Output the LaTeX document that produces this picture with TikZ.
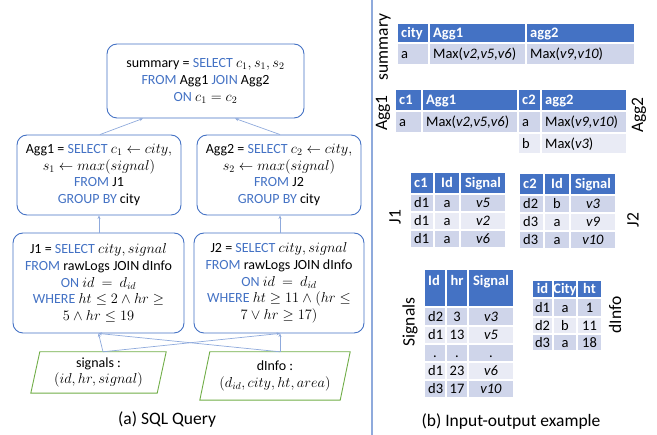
\documentclass[tikz,border=0pt]{standalone}
\usepackage{fontspec}
\setmainfont{Carlito}
\usetikzlibrary{arrows.meta}

\definecolor{kw}{HTML}{4472C4}
\definecolor{hdr}{HTML}{4472C4}
\definecolor{rowA}{HTML}{CFD5EA}
\definecolor{rowB}{HTML}{E9EBF5}
\definecolor{boxc}{HTML}{4472C4}
\definecolor{linkc}{HTML}{8FAADC}
\definecolor{inc}{HTML}{70AD47}
\definecolor{sepc}{HTML}{8FAADC}

% SQL keyword
\newcommand\kw[1]{\textcolor{kw}{#1}}
\newcommand\qfont{\fontsize{14}{16.7}\selectfont}
\newcommand\tfont{\fontsize{14.5}{17}\selectfont}
\newcommand\lfont{\fontsize{17.5}{20}\selectfont}

% table cells: x1 y1 x2 y2 fill text
\newcounter{cellno}
\newcommand\cellL[6]{%
  \path[cellbox,fill=#5] (#1,#2) rectangle (#3,#4);
  \stepcounter{cellno}%
  \node[celltext,anchor=west] (cell\arabic{cellno}) at ({#1+4},{(#2+#4)/2}) {#6};}
\newcommand\cellC[6]{%
  \path[cellbox,fill=#5] (#1,#2) rectangle (#3,#4);
  \stepcounter{cellno}%
  \node[celltext] (cell\arabic{cellno}) at ({(#1+#3)/2},{(#2+#4)/2}) {#6};}
\newcommand\hd[1]{\textcolor{white}{\bfseries #1}}

\begin{document}
\begin{tikzpicture}[x=1pt,y=-1pt,
  qbox/.style={draw=boxc, line width=0.9pt, rounded corners=10pt, align=center,
    font=\qfont, inner sep=0pt},
  inbox/.style={align=center, font=\qfont, inner sep=0pt},
  inshape/.style={draw=inc, line width=0.9pt},
  link/.style={draw=linkc, line width=0.7pt, -{Stealth[length=3.5pt,width=3pt]}},
  cellbox/.style={draw=white, line width=1.2pt},
  celltext/.style={font=\tfont, inner sep=0pt, text height=9.4pt, text depth=0pt},
  lbl/.style={font=\lfont, inner sep=0pt},
]
\useasboundingbox (0,0) rectangle (657,435);

% ---------------- (a) query plan ----------------
\node[qbox, minimum width=197pt, minimum height=74pt] (summary) at (205.5,81)
  {summary = \kw{SELECT} $c_1, s_1, s_2$\\
   \kw{FROM} Agg1 \kw{JOIN} Agg2\\
   \kw{ON} $c_1 = c_2$};

\node[qbox, minimum width=164pt, minimum height=80pt] (agg1) at (99,175)
  {Agg1 = \kw{SELECT} $c_1 \leftarrow city,$\\
   $s_1 \leftarrow max(signal)$\\
   \kw{FROM} J1\\
   \kw{GROUP BY} city};
\node[qbox, minimum width=164pt, minimum height=80pt] (agg2) at (279,175)
  {Agg2 = \kw{SELECT} $c_2 \leftarrow city,$\\
   $s_2 \leftarrow max(signal)$\\
   \kw{FROM} J2\\
   \kw{GROUP BY} city};

\node[qbox, minimum width=171pt, minimum height=100pt] (j1) at (98.5,283)
  {J1 = \kw{SELECT} $city, signal$\\
   \kw{FROM} rawLogs JOIN dInfo\\
   \kw{ON} $id\ =\ d_{id}$\\
   \kw{WHERE} $ht \le 2 \wedge hr \ge$\\
   $5 \wedge hr \le 19$};
\node[qbox, minimum width=170pt, minimum height=100pt] (j2) at (279,283)
  {J2 = \kw{SELECT} $city, signal$\\
   \kw{FROM} rawLogs JOIN dInfo\\
   \kw{ON} $id\ =\ d_{id}$\\
   \kw{WHERE} $ht \ge 11 \wedge (hr \le$\\
   $7 \vee hr \ge 17)$};

% input relations (parallelograms)
\node[inbox, minimum width=135pt, minimum height=41pt] (sig) at (98.5,372.5)
  {signals :\\ $(id, hr, signal)$};
\draw[inshape] ([xshift=9pt]sig.north west) -- (sig.north east)
  -- ([xshift=-9pt]sig.south east) -- (sig.south west) -- cycle;
\node[inbox, minimum width=150pt, minimum height=48pt] (dinfo) at (275,376)
  {dInfo :\\ $(d_{id}, city, ht, area)$};
\draw[inshape] ([xshift=10pt]dinfo.north west) -- (dinfo.north east)
  -- ([xshift=-10pt]dinfo.south east) -- (dinfo.south west) -- cycle;

% data flow
\draw[link] ([xshift=4.5pt]sig.north) -- (j1.south);
\draw[link] ([xshift=4.5pt]sig.north) -- ([xshift=1pt]j2.south);
\draw[link] ([xshift=5pt]dinfo.north) -- (j1.south);
\draw[link] ([xshift=5pt]dinfo.north) -- ([xshift=1pt]j2.south);
\draw[link] (agg1.south |- j1.north) -- (agg1.south);
\draw[link] ([xshift=1pt]agg2.south |- j2.north) -- ([xshift=1pt]agg2.south);
\draw[link] ([xshift=1pt]agg1.north) -- ([xshift=-62.5pt]summary.south);
\draw[link] ([xshift=1pt]agg2.north) -- ([xshift=29.5pt]summary.south);

\node[lbl] (capa) at (167,420) {(a) SQL Query};

% separator
\draw[draw=sepc, line width=1.2pt] (372,0) -- (372,435);

% ---------------- (b) example tables ----------------
% summary
\node[lbl, rotate=90] (lsummary) at (385,47) {summary};
\cellL{397}{23}{429}{43}{hdr}{\hd{city}}
\cellL{429}{23}{526}{43}{hdr}{\hd{Agg1}}
\cellL{526}{23}{635}{43}{hdr}{\hd{agg2}}
\cellL{397}{43}{429}{65}{rowA}{a}
\cellL{429}{43}{526}{65}{rowA}{Max(\textit{v2,v5,v6})}
\cellL{526}{43}{635}{65}{rowA}{Max(\textit{v9,v10})}

% Agg1 / Agg2
\node[lbl, rotate=90] (lagg1) at (383,113) {Agg1};
\node[lbl, rotate=90] (lagg2) at (639,115) {Agg2};
\cellL{395}{89}{422}{111}{hdr}{\hd{c1}}
\cellL{422}{89}{518}{111}{hdr}{\hd{Agg1}}
\cellL{518}{89}{541}{111}{hdr}{\hd{c2}}
\cellL{541}{89}{627}{111}{hdr}{\hd{agg2}}
\cellL{395}{111}{422}{133}{rowA}{a}
\cellL{422}{111}{518}{133}{rowA}{Max(\textit{v2,v5,v6})}
\cellL{518}{111}{541}{133}{rowA}{a}
\cellL{541}{111}{627}{133}{rowA}{Max(\textit{v9,v10})}
\cellL{518}{133}{541}{154}{rowB}{b}
\cellL{541}{133}{627}{154}{rowB}{Max(\textit{v3})}

% J1
\node[lbl, rotate=90] (lj1) at (395,217) {J1};
\cellL{410}{172}{434}{194}{hdr}{\hd{c1}}
\cellC{434}{172}{460}{194}{hdr}{\hd{Id}}
\cellC{460}{172}{506}{194}{hdr}{\hd{Signal}}
\cellL{410}{194}{434}{212}{rowA}{d1}
\cellC{434}{194}{460}{212}{rowA}{a}
\cellC{460}{194}{506}{212}{rowA}{\textit{v5}}
\cellL{410}{212}{434}{230}{rowB}{d1}
\cellC{434}{212}{460}{230}{rowB}{a}
\cellC{460}{212}{506}{230}{rowB}{\textit{v2}}
\cellL{410}{230}{434}{248}{rowA}{d1}
\cellC{434}{230}{460}{248}{rowA}{a}
\cellC{460}{230}{506}{248}{rowA}{\textit{v6}}

% J2
\node[lbl, rotate=90] (lj2) at (633,220) {J2};
\cellL{519}{173}{544}{195}{hdr}{\hd{c2}}
\cellC{544}{173}{570}{195}{hdr}{\hd{Id}}
\cellC{570}{173}{616}{195}{hdr}{\hd{Signal}}
\cellL{519}{195}{544}{213}{rowA}{d2}
\cellC{544}{195}{570}{213}{rowA}{b}
\cellC{570}{195}{616}{213}{rowA}{\textit{v3}}
\cellL{519}{213}{544}{231}{rowB}{d3}
\cellC{544}{213}{570}{231}{rowB}{a}
\cellC{570}{213}{616}{231}{rowB}{\textit{v9}}
\cellL{519}{231}{544}{249}{rowA}{d3}
\cellC{544}{231}{570}{249}{rowA}{a}
\cellC{570}{231}{616}{249}{rowA}{\textit{v10}}

% Signals (tall header, labels at the top)
\node[lbl, rotate=90] (lsignals) at (410,322) {Signals};
\path[cellbox,fill=hdr] (424,269) rectangle (446,307);
\path[cellbox,fill=hdr] (446,269) rectangle (468,307);
\path[cellbox,fill=hdr] (468,269) rectangle (514,307);
\node[celltext,anchor=west] (hid) at (428,281) {\hd{Id}};
\node[celltext] (hhr) at (457,281) {\hd{hr}};
\node[celltext] (hsig) at (491,281) {\hd{Signal}};
\cellL{424}{307}{446}{326}{rowA}{d2}
\cellC{446}{307}{468}{326}{rowA}{3}
\cellC{468}{307}{514}{326}{rowA}{\textit{v3}}
\cellL{424}{326}{446}{344}{rowB}{d1}
\cellC{446}{326}{468}{344}{rowB}{13}
\cellC{468}{326}{514}{344}{rowB}{\textit{v5}}
\cellC{424}{344}{446}{362}{rowA}{.}
\cellC{446}{344}{468}{362}{rowA}{.}
\cellC{468}{344}{514}{362}{rowA}{.}
\cellL{424}{362}{446}{380}{rowB}{d1}
\cellC{446}{362}{468}{380}{rowB}{23}
\cellC{468}{362}{514}{380}{rowB}{\textit{v6}}
\cellL{424}{380}{446}{398}{rowA}{d3}
\cellC{446}{380}{468}{398}{rowA}{17}
\cellC{468}{380}{514}{398}{rowA}{\textit{v10}}

% dInfo
\node[lbl, rotate=90] (ldinfo) at (615,315) {dInfo};
\cellC{532}{280}{553}{298}{hdr}{\hd{id}}
\cellC{553}{280}{577}{298}{hdr}{\hd{City}}
\cellC{577}{280}{602}{298}{hdr}{\hd{ht}}
\cellC{532}{298}{553}{317}{rowA}{d1}
\cellC{553}{298}{577}{317}{rowA}{a}
\cellC{577}{298}{602}{317}{rowA}{1}
\cellC{532}{317}{553}{334}{rowB}{d2}
\cellC{553}{317}{577}{334}{rowB}{b}
\cellC{577}{317}{602}{334}{rowB}{11}
\cellC{532}{334}{553}{351}{rowA}{d3}
\cellC{553}{334}{577}{351}{rowA}{a}
\cellC{577}{334}{602}{351}{rowA}{18}

\node[lbl] (capb) at (511,422) {(b) Input-output example};
\end{tikzpicture}
\end{document}
